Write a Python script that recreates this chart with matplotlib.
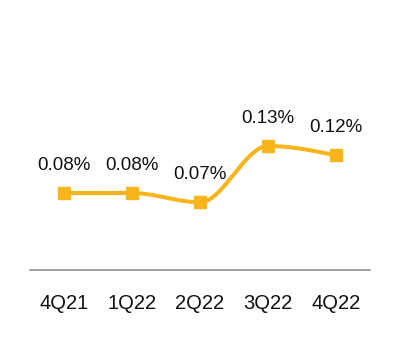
import matplotlib
matplotlib.use("Agg")
import matplotlib.pyplot as plt
import numpy as np

# data
quarters = ["4Q21", "1Q22", "2Q22", "3Q22", "4Q22"]
values = [0.08, 0.08, 0.07, 0.13, 0.12]
labels = ["0.08%", "0.08%", "0.07%", "0.13%", "0.12%"]

LINE = "#F8B41B"


def monotone_curve(x, y, n=40):
    # monotone cubic (Steffen) like d3.curveMonotoneX
    x = np.asarray(x, float)
    y = np.asarray(y, float)
    h = np.diff(x)
    s = np.diff(y) / h
    t = np.zeros(len(x))
    for i in range(1, len(x) - 1):
        p = (s[i - 1] * h[i] + s[i] * h[i - 1]) / (h[i - 1] + h[i])
        t[i] = (np.sign(s[i - 1]) + np.sign(s[i])) * min(abs(s[i - 1]), abs(s[i]), 0.5 * abs(p))
    t[0] = (3 * s[0] - t[1]) / 2
    t[-1] = (3 * s[-1] - t[-2]) / 2
    xs, ys = [], []
    for i in range(len(x) - 1):
        u = np.linspace(0, 1, n)
        h00 = 2 * u**3 - 3 * u**2 + 1
        h10 = u**3 - 2 * u**2 + u
        h01 = -2 * u**3 + 3 * u**2
        h11 = u**3 - u**2
        xs.append(x[i] + u * h[i])
        ys.append(h00 * y[i] + h10 * h[i] * t[i] + h01 * y[i + 1] + h11 * h[i] * t[i + 1])
    return np.concatenate(xs), np.concatenate(ys)


plt.rcParams['font.family'] = ['Liberation Sans', 'DejaVu Sans']

fig = plt.figure(figsize=(4, 3.4), dpi=100)
ax = fig.add_axes([0.075, 0.2059, 0.85, 0.735])

xpos = np.arange(len(quarters))
cx, cy = monotone_curve(xpos, values)
ax.plot(cx, cy, color=LINE, linewidth=2.9, solid_capstyle='round', zorder=2)
ax.plot(xpos, values, linestyle='none', marker='s', markersize=8.5, color=LINE, zorder=3)

for xi, v, lab in zip(xpos, values, labels):
    ax.annotate(lab, (xi, v), xytext=(0, 20), textcoords='offset points',
                ha='center', va='center', fontsize=13.5, color='#111111')

ax.set_xlim(-0.5, len(quarters) - 0.5)
ax.set_ylim(-0.002, 0.264)
ax.set_xticks(xpos)
ax.set_xticklabels(quarters, fontsize=14.5, color='#111111')
ax.tick_params(axis='x', length=0, pad=17)
ax.set_yticks([])
for side in ['top', 'right', 'left']:
    ax.spines[side].set_visible(False)
ax.spines['bottom'].set_color('#9a9a9a')
ax.spines['bottom'].set_linewidth(1.3)

fig.savefig("out.png", dpi=100, facecolor='white')
